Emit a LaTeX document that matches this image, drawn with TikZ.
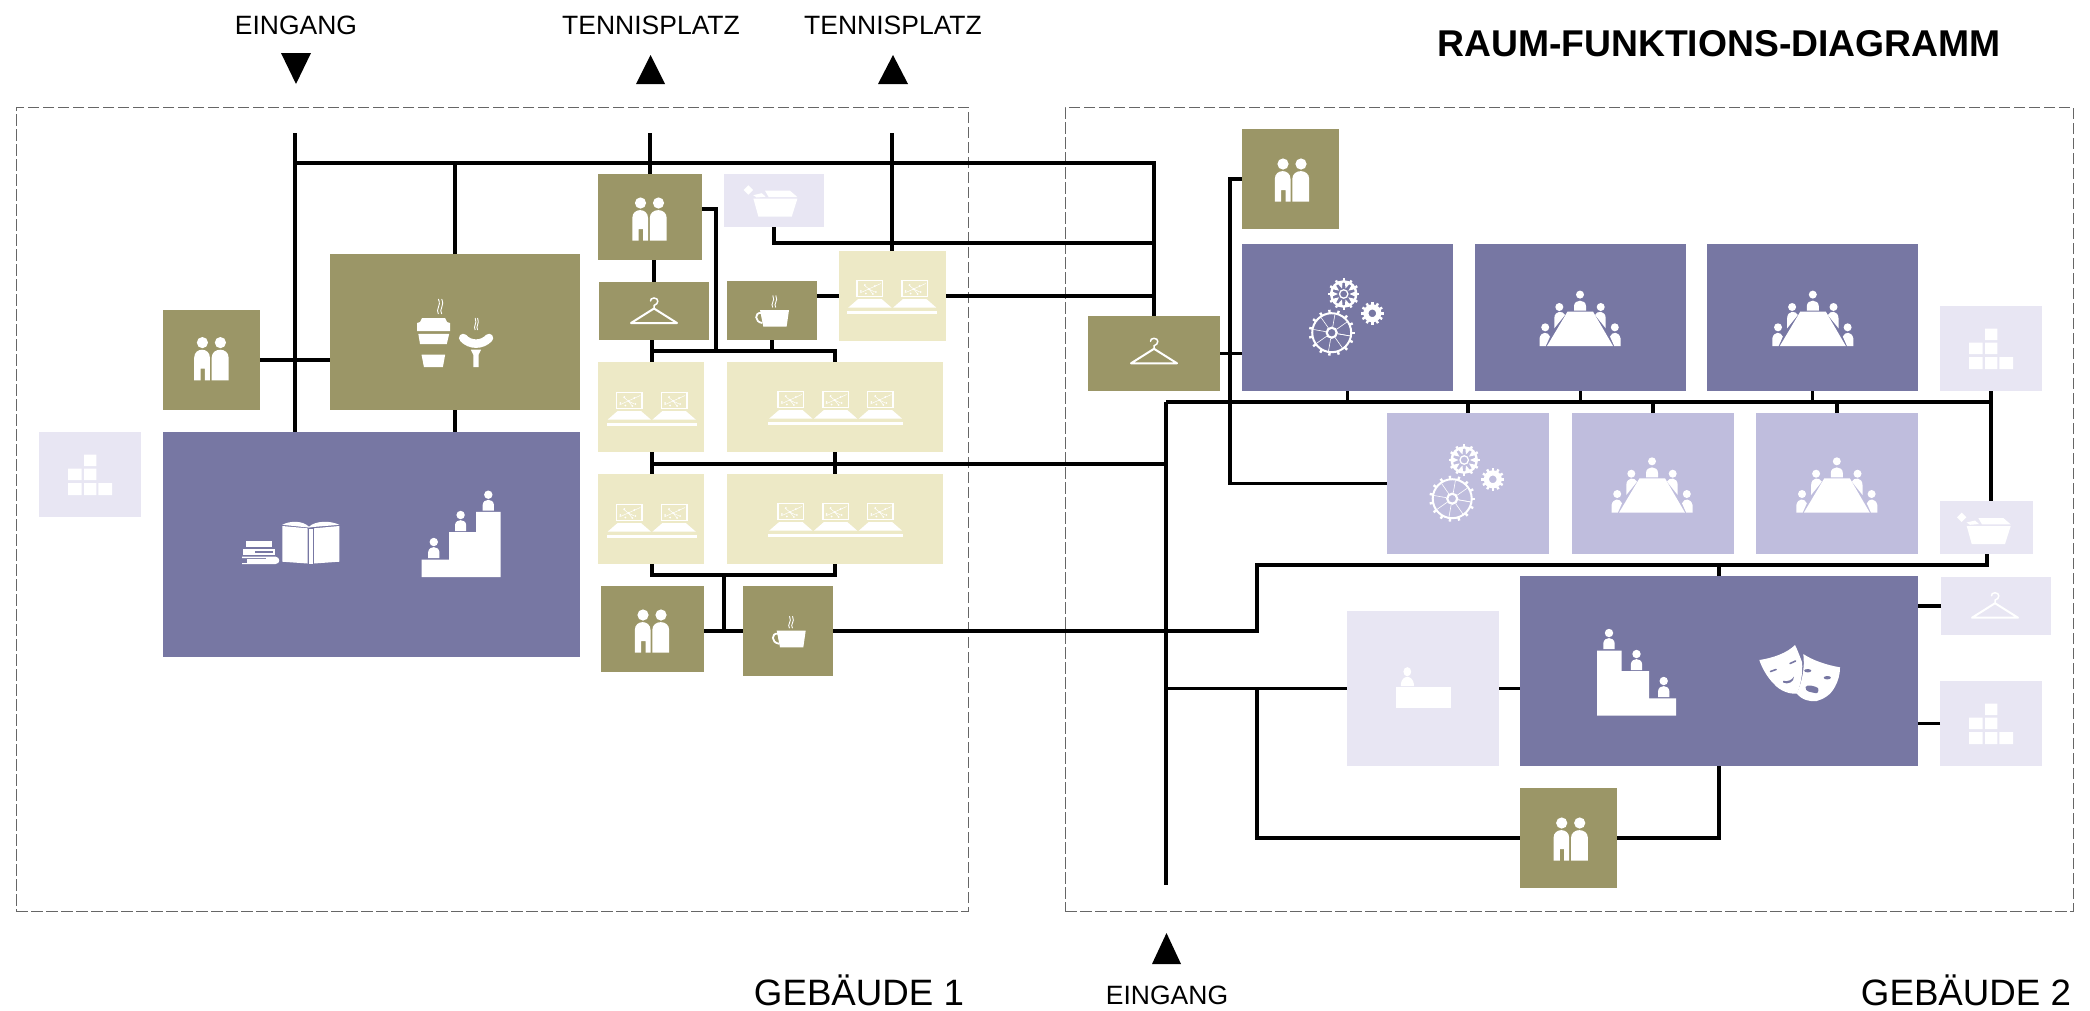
\documentclass[tikz,border=0pt]{standalone}
\usepackage{fontspec}
\setmainfont{Liberation Sans}
\definecolor{olive}{HTML}{9B9667}
\definecolor{purpleD}{HTML}{7777A3}
\definecolor{purpleM}{HTML}{BFBDDD}
\definecolor{purpleL}{HTML}{E8E6F3}
\definecolor{cream}{HTML}{EDE9C6}
\tikzset{
  roomnode/.style={inner sep=0pt,outer sep=0pt,draw=none},
  roomO/.style={roomnode,fill=olive},
  roomD/.style={roomnode,fill=purpleD},
  roomM/.style={roomnode,fill=purpleM},
  roomL/.style={roomnode,fill=purpleL},
  roomC/.style={roomnode,fill=cream},
  wire/.style={draw=black,line width=3.2pt,line join=miter},
  zone/.style={draw=black!60,line width=1pt,dash pattern=on 11.5pt off 3.5pt,fill=none,inner sep=0pt},
  lbl/.style={inner sep=0pt,font=\fontsize{26.5}{30}\selectfont},
  lblbig/.style={inner sep=0pt,font=\fontsize{36.7}{40}\selectfont},
}
\newcommand{\roomBox}[6]{%
  \pgfmathsetmacro\rmw{#5-#3}\pgfmathsetmacro\rmh{#6-#4}%
  \node[#2,minimum width=\rmw pt,minimum height=\rmh pt] (#1) at ({(#3+#5)/2},{(#4+#6)/2}) {};}
\newcommand{\iconPeople}[2]{\begin{scope}[shift={(#1,#2)}]
  \fill[white] (-9,-16) circle (5.6) (9,-16) circle (5.6);
  \fill[white] (-17.2,21.7) -- (-17.2,-1) .. controls (-17.2,-11.5) and (-1.5,-11.5) .. (-1.5,-1) -- (-1.5,21.7) -- (-6.5,21.7) -- (-6.5,10) -- (-10.8,10) -- (-10.8,21.7) -- cycle;
  \fill[white] (0.3,21.7) -- (0.3,-1) .. controls (0.3,-11.5) and (17.2,-11.5) .. (17.2,-1) -- (17.2,21.7) -- cycle;
\end{scope}}
\newcommand{\iconHanger}[2]{\begin{scope}[shift={(#1,#2)}]
  \draw[white,line width=2pt,line join=round] (-23,12) -- (0,-2.5) -- (23,12) -- cycle;
  \draw[white,line width=1.5pt,line cap=round] (0,-2.5) -- (0,-5.5) .. controls (5,-7) and (5,-13) .. (0,-13) .. controls (-2.5,-13) and (-3.5,-11.5) .. (-3.5,-10);
\end{scope}}
\newcommand{\iconSteam}[4]{\begin{scope}[shift={(#1,#2)},xscale=#3,yscale=#4]
  \draw[white,line width=0.9pt] (-1,0) .. controls (-4,-4) and (2,-6) .. (-1,-12) (2,0) .. controls (-1,-4) and (5,-6) .. (2,-12);
\end{scope}}
\newcommand{\iconCup}[2]{\begin{scope}[shift={(#1,#2)}]
  \fill[white] (-12.3,-1) -- (16.7,-1) -- (14.3,15.7) -- (-9,15.7) -- cycle;
  \draw[white,line width=1.8pt] (-11,2) .. controls (-18,1) and (-18,11) .. (-10,12);
  \iconSteam{1.5}{-3.5}{1}{1}
\end{scope}}
\newcommand{\iconLaptops}[4]{\begin{scope}[shift={(#1,#2)}]
  \fill[white] (-#4,7) rectangle (#4,10);
  \foreach \q in {#3}{
    \begin{scope}[shift={(\q,0)}]
    \draw[white,line width=1.5pt] (-12.8,-23.3) rectangle (12.8,-7.3);
    \fill[white] (-11.7,-5) -- (11.7,-5) -- (21.7,3.7) -- (-21.7,3.7) -- cycle;
    \draw[white,line width=0.5pt] (-10,-11) -- (11,-20.5) (-6,-19) -- (-1,-15) -- (3,-10) (-1,-15) -- (5,-12);
    \foreach \p/\r in {-9/-13,-5/-19,-1/-15,3/-10,5/-18,6/-12,-4/-10.5}{\fill[white] (\p,\r) circle (1);}
    \end{scope}}
\end{scope}}
\newcommand{\gearTeeth}[3]{\foreach \a in {0,#3,...,359}{\draw[white,line width=2.4pt] (\a:#1) -- (\a:#2);}}
\newcommand{\iconGears}[2]{\begin{scope}[shift={(#1,#2)}]
  \begin{scope}[shift={(-15,12.7)}]
    \draw[white,line width=2pt] (0,0) circle (19.5);
    \gearTeeth{19.5}{23}{24}
    \draw[white,line width=2.2pt] (0,0) circle (5);
    \foreach \a in {10,55,...,370}{\draw[white,line width=0.6pt] (\a:6) -- (\a:18.5);}
  \end{scope}
  \begin{scope}[shift={(-3,-26)}]
    \draw[white,line width=2.4pt] (0,0) circle (12.6);
    \gearTeeth{12.6}{15.6}{30}
    \draw[white,line width=1.3pt] (0,0) circle (4.2);
    \foreach \a in {0,36,...,359}{\fill[white] (\a:5.8) -- (\a+13:12.5) -- (\a-13:12.5) -- cycle;}
  \end{scope}
  \begin{scope}[shift={(25.6,-6.7)}]
    \draw[white,line width=5.2pt] (0,0) circle (6.4);
    \gearTeeth{8.5}{11.4}{30}
  \end{scope}
\end{scope}}
\newcommand{\iconTable}[2]{\begin{scope}[shift={(#1,#2)}]
  \fill[white] (-12.5,-6.7) -- (13,-6.7) -- (33,27.7) -- (-33,27.7) -- cycle;
  \fill[white] (0,-23.7) circle (4) (-20.7,-11.3) circle (4) (20.7,-11.3) circle (4) (-34.8,9) circle (4) (34.8,9) circle (4);
  \fill[white] (-6,-7.7) -- (-6,-12) .. controls (-6,-19.5) and (6,-19.5) .. (6,-12) -- (6,-7.7) -- cycle;
  \foreach \s in {1,-1}{\begin{scope}[xscale=\s]
    \fill[white] (-25.7,10) -- (-25.7,0) .. controls (-25.5,-8) and (-17,-8) .. (-15,-3.3) -- cycle;
    \fill[white] (-40.5,27.7) -- (-40.5,20) .. controls (-39,13) and (-32,13) .. (-30,18.3) -- (-34.2,27.7) -- cycle;
  \end{scope}}
\end{scope}}
\newcommand{\iconBlocks}[2]{\begin{scope}[shift={(#1,#2)}]
  \fill[white] (-6,-20.5) rectangle (6.3,-9) (-22,-6.5) rectangle (-8.3,5) (-6,-6.5) rectangle (6.3,5)
    (-22,8) rectangle (-8.3,20) (-6,8) rectangle (6.3,20) (8.3,8) rectangle (22,20);
\end{scope}}
\newcommand{\iconTrash}[2]{\begin{scope}[shift={(#1,#2)}]
  \fill[white] (-17.3,-3) -- (26.7,-3) -- (21,15) -- (-12.3,15) -- cycle;
  \fill[white] (-5.7,-11) -- (19.3,-11) -- (26.7,-4.6) -- (-2,-4.6) -- cycle;
  \fill[white] (-17.5,-6.5) -- (-9,-8.5) -- (-5,-5) -- (-14,-4.2) -- cycle;
  \fill[white] (-22.3,-16.4) -- (-17.6,-11.7) -- (-22.3,-7) -- (-27,-11.7) -- cycle;
\end{scope}}
\newcommand{\stepFig}[3]{%
  \fill[white] (#1,#2) ellipse (4.2 and #3);
  \fill[white] ({#1-5.6},{#2+16}) -- ({#1-5.6},{#2+10}) .. controls ({#1-5},{#2+3.5}) and ({#1+5},{#2+3.5}) .. ({#1+5.6},{#2+10}) -- ({#1+5.6},{#2+16}) -- cycle;}
\begin{document}
\begin{tikzpicture}[x=1pt,y=-1pt]
\useasboundingbox (0,0) rectangle (2090,1010);
\node[zone,minimum width=952pt,minimum height=804pt] (geb1) at (492,509) {};
\node[zone,minimum width=1008pt,minimum height=804pt] (geb2) at (1569,509) {};
% rooms of building 1
\roomBox{store1}{roomL}{39}{432}{141}{517}
\roomBox{wc1}{roomO}{163}{310}{260}{410}
\roomBox{cafe}{roomO}{330}{254}{580}{410}
\roomBox{lib}{roomD}{163}{432}{580}{657}
\roomBox{wc2}{roomO}{598}{174}{702}{260}
\roomBox{trash1}{roomL}{724}{174}{824}{227}
\roomBox{hanger1}{roomO}{599}{282}{709}{340}
\roomBox{cup1}{roomO}{727}{281}{817}{340}
\roomBox{sem1}{roomC}{839}{251}{946}{341}
\roomBox{sem2}{roomC}{598}{362}{704}{452}
\roomBox{sem3}{roomC}{727}{362}{943}{452}
\roomBox{sem4}{roomC}{598}{474}{704}{564}
\roomBox{sem5}{roomC}{727}{474}{943}{564}
\roomBox{wc3}{roomO}{601}{586}{704}{672}
\roomBox{cup2}{roomO}{743}{586}{833}{676}
% rooms of building 2
\roomBox{wc4}{roomO}{1242}{129}{1339}{229}
\roomBox{hanger2}{roomO}{1088}{316}{1220}{391}
\roomBox{gear1}{roomD}{1242}{244}{1453}{391}
\roomBox{conf1}{roomD}{1475}{244}{1686}{391}
\roomBox{conf2}{roomD}{1707}{244}{1918}{391}
\roomBox{store2}{roomL}{1940}{306}{2042}{391}
\roomBox{gear2}{roomM}{1387}{413}{1549}{554}
\roomBox{conf3}{roomM}{1572}{413}{1734}{554}
\roomBox{conf4}{roomM}{1756}{413}{1918}{554}
\roomBox{trash2}{roomL}{1940}{501}{2033}{554}
\roomBox{theatre}{roomD}{1520}{576}{1918}{766}
\roomBox{foyer}{roomL}{1347}{611}{1499}{766}
\roomBox{hanger3}{roomL}{1941}{577}{2051}{635}
\roomBox{store3}{roomL}{1940}{681}{2042}{766}
\roomBox{wc5}{roomO}{1520}{788}{1617}{888}
% icons
\iconBlocks{90}{475}\iconBlocks{1991}{349}\iconBlocks{1991}{724}
\iconPeople{211.4}{358.6}\iconPeople{649.5}{219}\iconPeople{652}{631}\iconPeople{1292}{180}\iconPeople{1570.7}{839}
\iconHanger{654}{311}\iconHanger{1154}{351.3}\iconHanger{1995}{605.7}
\iconCup{772.3}{311}\iconCup{789}{631.7}
\iconTrash{770.7}{201.7}\iconTrash{1984}{529}
\iconLaptops{892.3}{304}{-22.4,22.4}{45}
\iconLaptops{651.7}{416}{-22.4,22.4}{45}
\iconLaptops{835.6}{415}{-44.8,0,44.8}{67.7}
\iconLaptops{651.7}{528}{-22.4,22.4}{45}
\iconLaptops{835.6}{527}{-44.8,0,44.8}{67.7}
\iconGears{1346.7}{320}\iconGears{1467.2}{486}
\iconTable{1580}{318.3}\iconTable{1812.8}{318.3}\iconTable{1652}{485}\iconTable{1836.8}{485}
% coffee and sausage
\fill[white] (422,318) -- (445,318) -- (447,322) -- (450,323) -- (450,331) -- (417,331) -- (417,323) -- (420,322) -- cycle;
\fill[white] (418.3,333.8) -- (449.2,333.8) -- (446.8,344) -- (420,344) -- cycle;
\fill[white] (421.5,354.5) -- (445.2,354.5) -- (442.9,367) -- (423.9,367) -- cycle;
\iconSteam{439.5}{314}{1.1}{1.25}
\iconSteam{476}{330}{0.8}{1}
\draw[white,line width=8.5pt,line cap=round] (463.2,338) .. controls (470,345.5) and (482,345.5) .. (489,338);
\fill[white] (470.8,349.7) -- (481,349.7) -- (478.5,355) -- (478.5,367) -- (473.4,367) -- (473.4,355) -- cycle;
% books
\fill[white] (282.3,526) -- (307.6,528.3) -- (307.6,563.5) -- (282.3,561.7) -- cycle;
\fill[white] (314,528.3) -- (339.3,526) -- (339.3,561.7) -- (314,563.5) -- cycle;
\fill[white] (309,528.5) rectangle (313,564);
\fill[white] (282.3,524.8) .. controls (290,520.5) and (303,520.5) .. (309,526.8) .. controls (315,520.5) and (331,520.5) .. (339.3,524.8) -- (313,527) -- (309,527.6) -- cycle;
\fill[white] (246,541) rectangle (272.4,547);
\fill[white] (243,548.8) rectangle (275,555.2);
\fill[purpleD] (255,551) rectangle (273,553.2);
\fill[white] (242,556.6) -- (275.5,556.6) .. controls (280.5,557) and (280.5,564) .. (275.5,564) -- (242,564) -- (242,563.2) -- (266,563.2) -- (266,558) -- (242,558) -- cycle;
\fill[white] (247,558.6) rectangle (275,563);
% stairs, library
\fill[white] (421.5,577) -- (421.5,559.5) -- (449,559.5) -- (449,532) -- (476,532) -- (476,511.8) -- (500.6,511.8) -- (500.6,577) -- cycle;
\stepFig{433.8}{542}{4.2}\stepFig{460.6}{515}{4.2}\stepFig{488.3}{494.7}{4.2}
% stairs, theatre
\fill[white] (1597,715.7) -- (1597,650.7) -- (1621.5,650.7) -- (1621.5,671) -- (1649,671) -- (1649,698.3) -- (1676,698.3) -- (1676,715.7) -- cycle;
\stepFig{1609}{633}{4.2}\stepFig{1636.5}{654}{4.2}\stepFig{1663.7}{681}{4.2}
% masks
\fill[white] (1759.3,660) .. controls (1773,658) and (1787,653) .. (1795,645) .. controls (1798,651) and (1800,657) .. (1802,662) .. controls (1803,672) and (1801,684) .. (1797,693.5) .. controls (1790,694.5) and (1780,691) .. (1774,684) .. controls (1767,677) and (1762,668) .. (1759.3,660) -- cycle;
\fill[white] (1803.3,654) .. controls (1812,660) and (1826,665) .. (1840,667.3) .. controls (1840,675) and (1838,681) .. (1835,686.7) .. controls (1830,696) and (1823,699) .. (1816.7,701) .. controls (1810,702) and (1802,700) .. (1796.7,693.5) .. controls (1802,682) and (1805,668) .. (1803.3,654) -- cycle;
\draw[purpleD,line width=1.6pt,line cap=round] (1770.5,671.5) -- (1776,669.5) (1790,663.5) -- (1795.5,661);
\fill[purpleD] (1783,680.8) .. controls (1788,682) and (1792,680) .. (1794,676.5) .. controls (1794,682) and (1788,685) .. (1783,682.5) -- cycle;
\fill[purpleD] (1807.7,670.7) ellipse (3.6 and 1.7);
\fill[purpleD] (1827.3,677.7) ellipse (3.6 and 1.7);
\fill[purpleD] (1805.5,687) .. controls (1807,684) and (1815,686) .. (1818,688) .. controls (1819,691) and (1818,694) .. (1815,693) .. controls (1811,692) and (1805,692) .. (1805.5,687) -- cycle;
% desk
\fill[white] (1395.7,686.7) rectangle (1451,707.7);
\fill[white] (1407.3,671.7) ellipse (3.9 and 4.6);
\fill[white] (1400.8,686) -- (1400.8,684) .. controls (1402,674.5) and (1412.5,674.5) .. (1413.9,684) -- (1413.9,686) -- cycle;
% coordinates
\coordinate (e1) at (295,133);
\coordinate (e2) at (650,133);
\coordinate (e3) at (892,133);
\coordinate (busT) at (1154,163);
\coordinate (w2o) at (702,209);
\coordinate (j1) at (716,351);
\coordinate (j2) at (652,351);
\coordinate (t1) at (774,243);
\coordinate (j4) at (1166,464);
\coordinate (b1) at (1166,402);
\coordinate (b2) at (1166,885);
\coordinate (b3) at (1991,402);
\coordinate (w4) at (1230,179);
\coordinate (j5) at (724,575);
\coordinate (k1) at (1257,565);
\coordinate (k2) at (1987,565);
% connectors
\draw[wire] (e1) -- (e1 |- lib.north);
\draw[wire] (e1 |- busT) -- (busT) -- (busT |- hanger2.north);
\draw[wire] (cafe.north) -- (cafe.north |- busT);
\draw[wire] (cafe.south) -- (cafe.south |- lib.north);
\draw[wire] (wc1.east) -- (wc1.east -| cafe.west);
\draw[wire] (e2) -- (wc2.north);
\draw[wire] (e3) -- (e3 |- sem1.north);
\draw[wire] (w2o) -- (j1 |- w2o) -- (j1);
\draw[wire] (wc2.south -| hanger1.south) -- (hanger1.north);
\draw[wire] (j2 |- hanger1.south) -- (j2 |- sem2.north);
\draw[wire] (j2) -- (j2 -| sem3.north) -- (sem3.north);
\draw[wire] (cup1.south) -- (cup1.south |- j2);
\draw[wire] (t1 |- trash1.south) -- (t1) -- (busT |- t1);
\draw[wire] (sem1.west) -- (sem1.west -| cup1.east);
\draw[wire] (sem1.east) -- (busT |- sem1.east);
\draw[wire] (j2 |- sem2.south) -- (j2 |- sem4.north);
\draw[wire] (sem3.south) -- (sem5.north);
\draw[wire] (j2 |- j4) -- (j4);
\draw[wire] (b1) -- (b2);
\draw[wire] (b1) -- (b3);
\draw[wire] (gear1.south) -- (gear1.south |- b1);
\draw[wire] (conf1.south) -- (conf1.south |- b1);
\draw[wire] (conf2.south) -- (conf2.south |- b1);
\draw[wire] (gear2.north) -- (gear2.north |- b1);
\draw[wire] (conf3.north) -- (conf3.north |- b1);
\draw[wire] (conf4.north) -- (conf4.north |- b1);
\draw[wire] (store2.south) -- (trash2.north -| store2.south);
\draw[wire] (wc4.west |- w4) -- (w4) -- (w4 |- gear2.west) -- (gear2.west);
\draw[wire] (hanger2.east) -- (hanger2.east -| gear1.west);
\draw[wire] (j2 |- sem4.south) -- (j2 |- j5) -- (j5 -| sem5.south) -- (sem5.south);
\draw[wire] (j5) -- (j5 |- cup2.west);
\draw[wire] (wc3.east |- cup2.west) -- (cup2.west);
\draw[wire] (cup2.east) -- (k1 |- cup2.east) -- (k1) -- (k2) -- (k2 |- trash2.south);
\draw[wire] (theatre.north) -- (theatre.north |- k1);
\draw[wire] (b1 |- foyer.west) -- (foyer.west);
\draw[wire] (foyer.east) -- (foyer.east -| theatre.west);
\draw[wire] (k1 |- foyer.west) -- (k1 |- wc5.west) -- (wc5.west);
\draw[wire] (wc5.east) -- (wc5.east -| theatre.south) -- (theatre.south);
\draw[wire] (hanger3.west) -- (hanger3.west -| theatre.east);
\draw[wire] (store3.west) -- (store3.west -| theatre.east);
% arrows at entrances
\fill[black] (281,53) -- (311,53) -- (296,84) -- cycle;
\fill[black] (636,84) -- (665,84) -- (650.5,55) -- cycle;
\fill[black] (878,84) -- (908,84) -- (893,55) -- cycle;
\fill[black] (1152,964) -- (1181,964) -- (1166.5,933) -- cycle;
% labels
\node[lbl] (t1a) at (296,25) {EINGANG};
\node[lbl] (t2a) at (651,25) {TENNISPLATZ};
\node[lbl] (t3a) at (893,25) {TENNISPLATZ};
\node[lbl] (t4a) at (1167,995) {EINGANG};
\node[lbl,font=\fontsize{37.3}{40}\selectfont\bfseries] (title) at (1719,44) {RAUM-FUNKTIONS-DIAGRAMM};
\node[lblbig] (g1) at (859,990) {GEBÄUDE 1};
\node[lblbig] (g2) at (1966,990) {GEBÄUDE 2};
\end{tikzpicture}
\end{document}
